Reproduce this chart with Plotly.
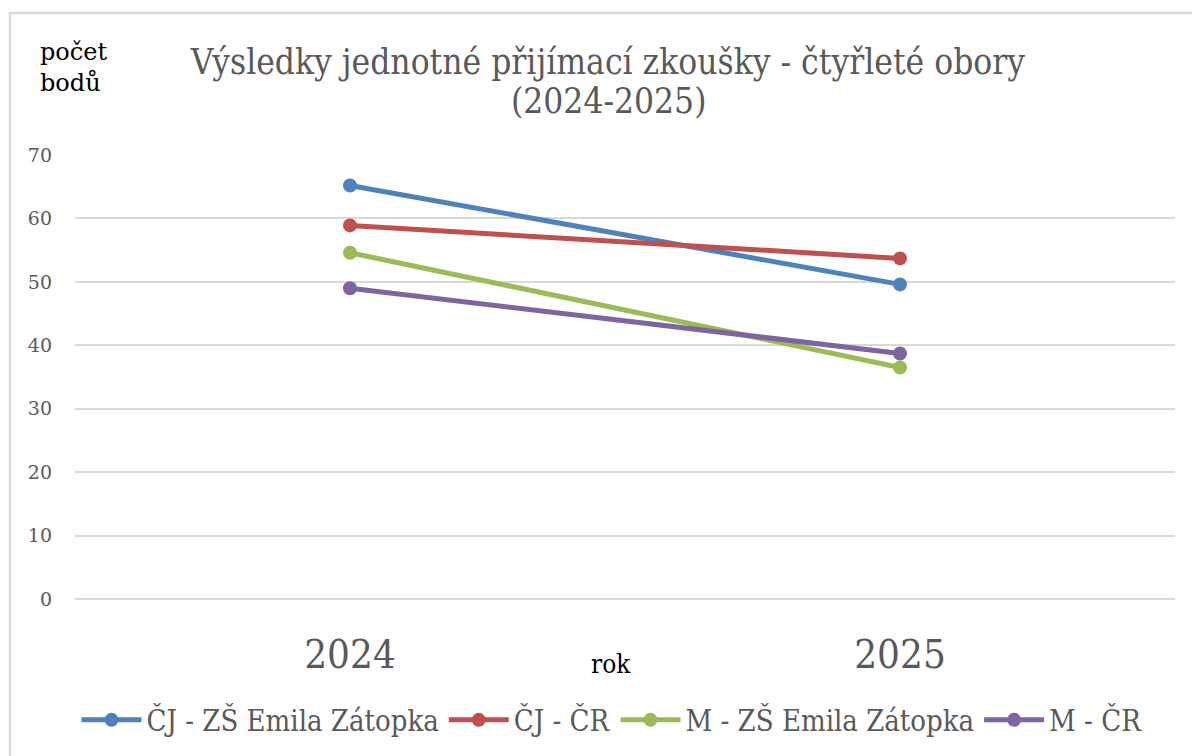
import plotly.graph_objects as go

years = ["2024", "2025"]
series_names = ["ČJ - ZŠ Emila Zátopka", "ČJ - ČR", "M - ZŠ Emila Zátopka", "M - ČR"]
cj_zs = [65.2, 49.6]
cj_cr = [58.9, 53.7]
m_zs = [54.6, 36.5]
m_cr = [49.0, 38.7]
colors = ["#4F81BD", "#C0504D", "#9BBB59", "#8064A2"]

serif = "DejaVu Serif"
cond = "DejaVu Serif Condensed"

L, T, W, H = 75, 155, 1100, 444

fig = go.Figure()
for name, vals, c in zip(series_names, [cj_zs, cj_cr, m_zs, m_cr], colors):
    fig.add_trace(go.Scatter(x=years, y=vals, name=name, mode="lines+markers",
                             line=dict(color=c, width=5),
                             marker=dict(color=c, size=14)))

def px(x):
    return (x - L) / W

def py(y):
    return (T + H - y) / H

fig.update_layout(
    width=1192, height=756,
    margin=dict(l=L, r=1192 - L - W, t=T, b=756 - T - H, autoexpand=False),
    paper_bgcolor="white", plot_bgcolor="white",
    showlegend=True,
    title=dict(text="Výsledky jednotné přijímací zkoušky - čtyřleté obory",
               xref="paper", x=px(608), xanchor="center", y=1 - 62 / 756, yanchor="middle",
               font=dict(family=cond, size=35, color="#595959")),
    legend=dict(orientation="h", x=px(612), xanchor="center", y=py(720), yanchor="middle",
                font=dict(family=cond, size=29, color="#595959"),
                itemwidth=60, tracegroupgap=0),
    xaxis=dict(type="category", range=[-0.5, 1.5], showgrid=False, showline=False,
               ticks="", tickfont=dict(family=cond, size=40, color="#595959"),
               ticklabelstandoff=28),
    yaxis=dict(range=[0, 70], dtick=10, showgrid=True, gridcolor="#D9D9D9", gridwidth=1.5,
               zeroline=True, zerolinecolor="#D9D9D9", zerolinewidth=1.5,
               showline=False, ticks="", ticklen=0, ticklabelstandoff=22,
               tickfont=dict(family=serif, size=19, color="#595959")),
    annotations=[
        dict(text="(2024-2025)", xref="paper", yref="paper", x=px(608), y=py(101),
             xanchor="center", yanchor="middle", showarrow=False,
             font=dict(family=cond, size=35, color="#595959")),
        dict(text="počet<br>bodů", xref="paper", yref="paper", x=px(38), y=py(67),
             xanchor="left", yanchor="middle", showarrow=False, align="left",
             font=dict(family=serif, size=24, color="black")),
        dict(text="rok", xref="paper", yref="paper", x=px(611), y=py(664),
             xanchor="center", yanchor="middle", showarrow=False,
             font=dict(family=cond, size=26, color="black")),
    ],
    shapes=[dict(type="rect", xref="paper", yref="paper",
                 x0=px(10), x1=px(1210), y0=py(775), y1=py(13),
                 line=dict(color="#D9D9D9", width=2.5), fillcolor="rgba(0,0,0,0)", layer="below")],
)
fig.write_html("out.html", config={"displayModeBar": False},
               post_script="document.body.style.margin='0';document.body.style.overflow='hidden';")
